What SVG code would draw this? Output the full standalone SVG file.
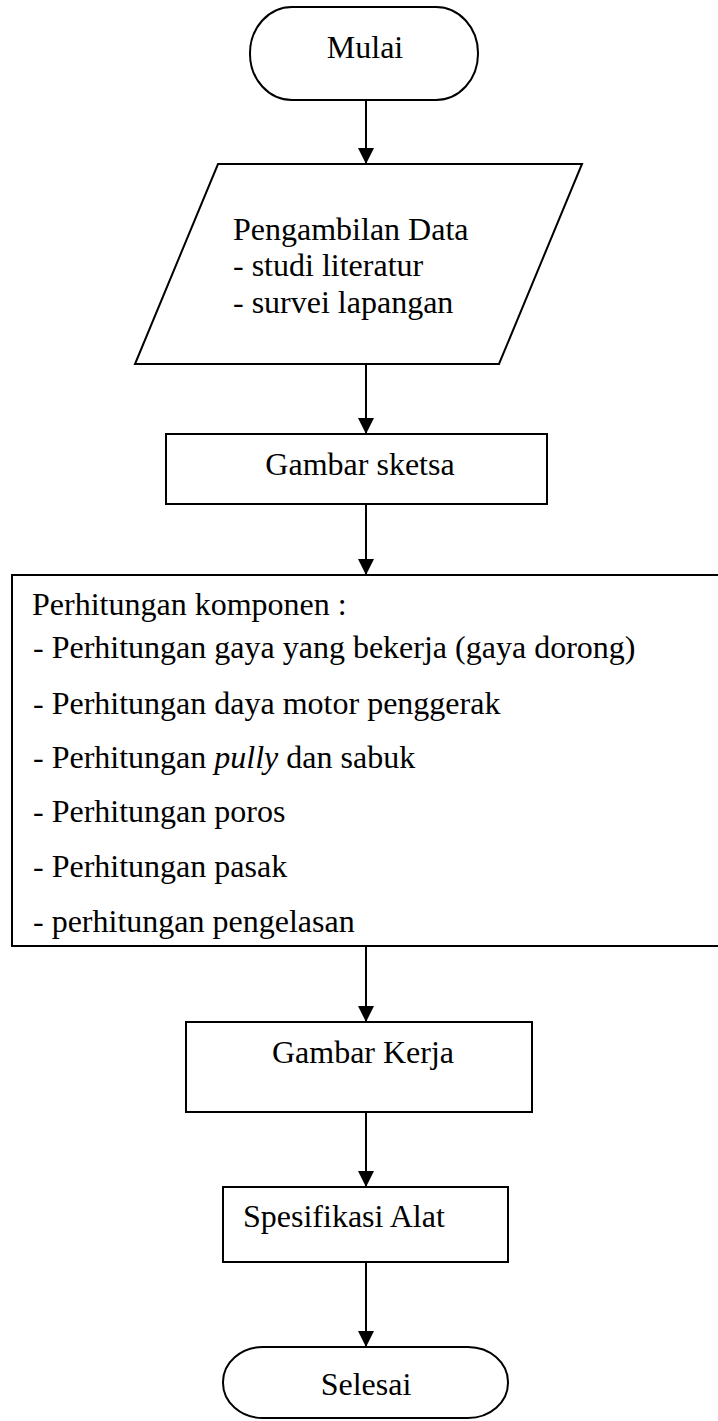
<svg xmlns="http://www.w3.org/2000/svg" width="718" height="1421" viewBox="0 0 718 1421">
<style>
.shape{fill:#fff;stroke:#000;stroke-width:2}
.t{font-family:"Liberation Serif","Times New Roman",serif;font-size:32px;fill:#000}
.c{stroke:#000;stroke-width:2;fill:none}
</style>
<defs>
<marker id="ah" markerUnits="userSpaceOnUse" markerWidth="16" markerHeight="16" refX="16" refY="8" orient="auto" viewBox="0 0 16 16">
<path d="M0,0 L16,8 L0,16 Z" fill="#000"/>
</marker>
</defs>
<rect width="718" height="1421" fill="#fff"/>
<g id="connectors">
<line class="c" x1="366" y1="100" x2="366" y2="164" marker-end="url(#ah)"/>
<line class="c" x1="366" y1="364" x2="366" y2="434" marker-end="url(#ah)"/>
<line class="c" x1="366" y1="504" x2="366" y2="575" marker-end="url(#ah)"/>
<line class="c" x1="366" y1="946" x2="366" y2="1022" marker-end="url(#ah)"/>
<line class="c" x1="366" y1="1112" x2="366" y2="1187" marker-end="url(#ah)"/>
<line class="c" x1="366" y1="1262" x2="366" y2="1347" marker-end="url(#ah)"/>
</g>
<g id="mulai">
<rect class="shape" x="250" y="7" width="228" height="93" rx="42" ry="46"/>
<text class="t" x="365" y="58" text-anchor="middle">Mulai</text>
</g>
<g id="pengambilan-data">
<polygon class="shape" points="218,164 582,164 499,364 135,364"/>
<text class="t" x="233" y="240">Pengambilan Data</text>
<text class="t" x="233" y="276">- studi literatur</text>
<text class="t" x="233" y="313">- survei lapangan</text>
</g>
<g id="gambar-sketsa">
<rect class="shape" x="166" y="434" width="381" height="70"/>
<text class="t" x="360" y="475" text-anchor="middle">Gambar sketsa</text>
</g>
<g id="perhitungan">
<rect class="shape" x="12" y="575" width="720" height="371"/>
<text class="t" x="32" y="615">Perhitungan komponen :</text>
<text class="t" x="33" y="658">- Perhitungan gaya yang bekerja (gaya dorong)</text>
<text class="t" x="33" y="714">- Perhitungan daya motor penggerak</text>
<text class="t" x="33" y="768">- Perhitungan <tspan font-style="italic">pully</tspan> dan sabuk</text>
<text class="t" x="33" y="822">- Perhitungan poros</text>
<text class="t" x="33" y="877">- Perhitungan pasak</text>
<text class="t" x="33" y="932">- perhitungan pengelasan</text>
</g>
<g id="gambar-kerja">
<rect class="shape" x="186" y="1022" width="346" height="90"/>
<text class="t" x="363" y="1063" text-anchor="middle">Gambar Kerja</text>
</g>
<g id="spesifikasi-alat">
<rect class="shape" x="223" y="1187" width="285" height="75"/>
<text class="t" x="243" y="1227">Spesifikasi Alat</text>
</g>
<g id="selesai">
<rect class="shape" x="223" y="1347" width="285" height="71" rx="40" ry="35"/>
<text class="t" x="366" y="1395" text-anchor="middle">Selesai</text>
</g>
</svg>
